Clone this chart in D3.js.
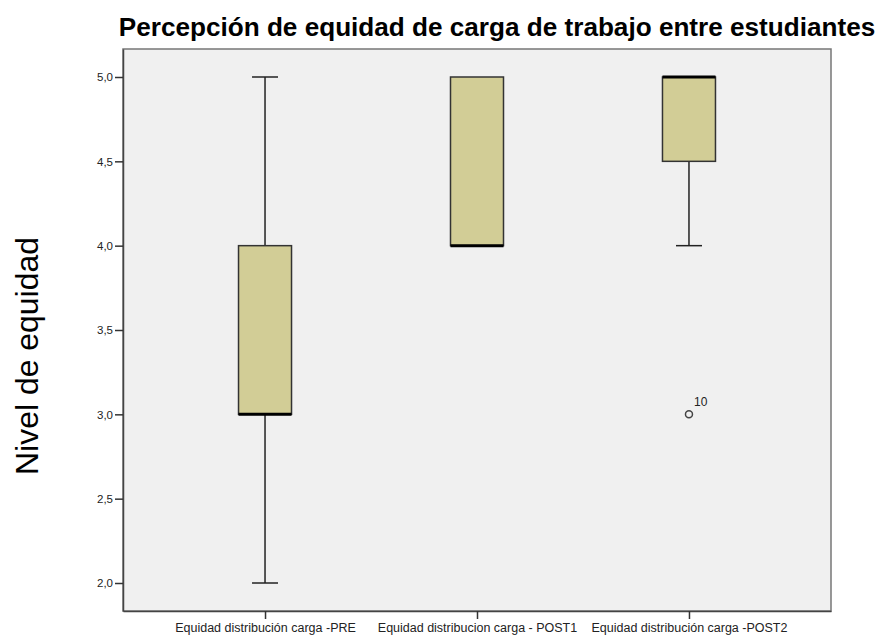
<!DOCTYPE html>
<html>
<head>
  <meta charset="utf-8">
  <title>Percepción de equidad</title>
  <style>
    body { margin: 0; background: #fff; }
    text { font-family: "Liberation Sans", Arial, sans-serif; }
  </style>
</head>
<body>
  <script src="https://cdn.jsdelivr.net/npm/d3@7"></script>
  <script>
  'use strict'

  const categories = ['Equidad distribución carga -PRE', 'Equidad distribucion carga - POST1', 'Equidad distribución carga -POST2']
  const mins    = [2, 4, 4]
  const q1s     = [3, 4, 4.5]
  const medians = [3, 4, 5]
  const q3s     = [4, 5, 5]
  const maxs    = [5, 5, 5]
  const outliers = [{ cat: 2, value: 3, label: '10' }]
  const yTicks = [2.0, 2.5, 3.0, 3.5, 4.0, 4.5, 5.0]

  const W = 889, H = 635
  const plot = { left: 123, right: 831, top: 49, bottom: 611 }

  const svg = d3.select('body').append('svg')
    .attr('width', W)
    .attr('height', H)

  const x = d3.scalePoint()
    .domain(categories)
    .range([plot.left, plot.right])
    .padding(0.67)

  const y = d3.scaleLinear()
    .domain([1.834, 5.166])
    .range([plot.bottom, plot.top])

  // plot background + frame
  svg.append('rect')
    .attr('x', plot.left).attr('y', plot.top)
    .attr('width', plot.right - plot.left).attr('height', plot.bottom - plot.top)
    .attr('fill', '#f0f0f0')
    .attr('stroke', '#777')
    .attr('stroke-width', 1.5)

  // axes
  const yAxis = svg.append('g')
    .attr('transform', `translate(${plot.left},0)`)
    .call(d3.axisLeft(y).tickValues(yTicks).tickSize(8).tickSizeOuter(0)
      .tickFormat(d => d3.format('.1f')(d).replace('.', ',')))
  yAxis.select('.domain').attr('stroke', '#444').attr('stroke-width', 1.5)
  yAxis.selectAll('.tick line').attr('stroke', '#333').attr('stroke-width', 1.5)
  yAxis.selectAll('.tick text')
    .attr('font-family', '"Liberation Sans", Arial, sans-serif')
    .attr('font-size', 11.5).attr('fill', '#222').attr('dx', 1)

  const xAxis = svg.append('g')
    .attr('transform', `translate(0,${plot.bottom})`)
    .call(d3.axisBottom(x).tickSize(8).tickSizeOuter(0).tickPadding(4))
  xAxis.select('.domain').attr('stroke', '#444').attr('stroke-width', 1.5)
  xAxis.selectAll('.tick line').attr('stroke', '#333').attr('stroke-width', 1.5)
  xAxis.selectAll('.tick text')
    .attr('font-family', '"Liberation Sans", Arial, sans-serif')
    .attr('font-size', 12.5).attr('fill', '#222')

  const boxW = 53
  const capW = 26
  const idx = d3.range(categories.length)
  const g = svg.append('g')

  // whiskers
  idx.forEach(i => {
    const cx = x(categories[i])
    if (mins[i] < q1s[i]) {
      g.append('line').attr('x1', cx).attr('x2', cx).attr('y1', y(q1s[i])).attr('y2', y(mins[i]))
        .attr('stroke', '#222').attr('stroke-width', 1.5)
      g.append('line').attr('x1', cx - capW / 2).attr('x2', cx + capW / 2).attr('y1', y(mins[i])).attr('y2', y(mins[i]))
        .attr('stroke', '#222').attr('stroke-width', 1.5)
    }
    if (maxs[i] > q3s[i]) {
      g.append('line').attr('x1', cx).attr('x2', cx).attr('y1', y(q3s[i])).attr('y2', y(maxs[i]))
        .attr('stroke', '#222').attr('stroke-width', 1.5)
      g.append('line').attr('x1', cx - capW / 2).attr('x2', cx + capW / 2).attr('y1', y(maxs[i])).attr('y2', y(maxs[i]))
        .attr('stroke', '#222').attr('stroke-width', 1.5)
    }
  })

  // boxes
  g.selectAll('rect.box')
    .data(idx)
    .enter()
    .append('rect')
    .attr('class', 'box')
    .attr('x', i => x(categories[i]) - boxW / 2)
    .attr('y', i => y(q3s[i]))
    .attr('width', boxW)
    .attr('height', i => y(q1s[i]) - y(q3s[i]))
    .attr('fill', '#d2cd96')
    .attr('stroke', '#333')
    .attr('stroke-width', 1.5)

  // medians
  g.selectAll('line.median')
    .data(idx)
    .enter()
    .append('line')
    .attr('class', 'median')
    .attr('x1', i => x(categories[i]) - boxW / 2)
    .attr('x2', i => x(categories[i]) + boxW / 2)
    .attr('y1', i => y(medians[i]))
    .attr('y2', i => y(medians[i]))
    .attr('stroke', '#000')
    .attr('stroke-width', 3)

  // outliers
  outliers.forEach(o => {
    const cx = x(categories[o.cat])
    g.append('circle').attr('cx', cx).attr('cy', y(o.value)).attr('r', 3.5)
      .attr('fill', 'none').attr('stroke', '#444').attr('stroke-width', 1.5)
    g.append('text').attr('x', cx + 5).attr('y', y(o.value) - 8)
      .attr('font-size', 12).attr('fill', '#222').text(o.label)
  })

  // title, fitted to its width in the reference
  const title = svg.append('text')
    .attr('x', 497).attr('y', 36)
    .attr('text-anchor', 'middle')
    .attr('font-weight', 'bold')
    .attr('font-size', 24)
    .attr('fill', '#000')
    .text('Percepción de equidad de carga de trabajo entre estudiantes')
  const tw = title.node().getComputedTextLength()
  title.attr('font-size', 24 * 757 / tw)

  // y label
  const ylab = svg.append('text')
    .attr('transform', 'translate(38,356) rotate(-90)')
    .attr('text-anchor', 'middle')
    .attr('font-size', 30)
    .attr('fill', '#000')
    .text('Nivel de equidad')
  const lw = ylab.node().getComputedTextLength()
  ylab.attr('font-size', 30 * 238 / lw)
  </script>
</body>
</html>
